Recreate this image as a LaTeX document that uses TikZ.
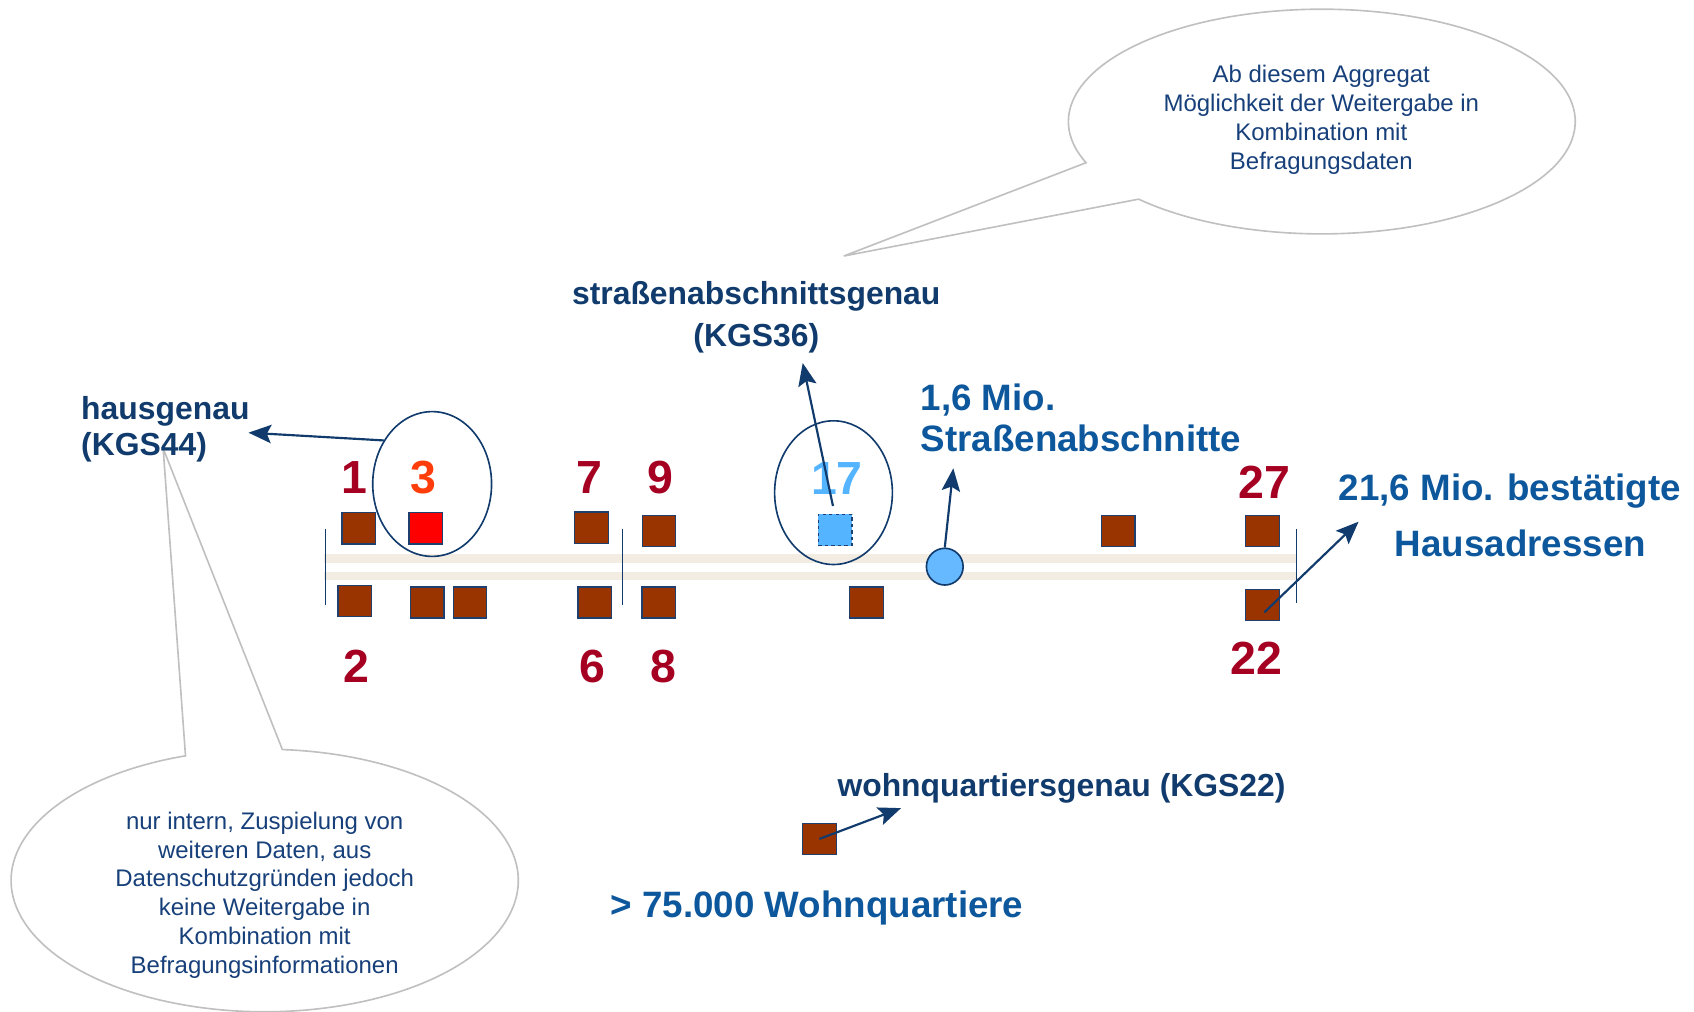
\documentclass[tikz,border=0pt]{standalone}
\usepackage{fontspec}
\setmainfont{Liberation Sans}
\usetikzlibrary{arrows.meta,calc,shapes.geometric}
\definecolor{navy}{HTML}{103B6C}
\definecolor{mblue}{HTML}{0D579C}
\definecolor{numred}{HTML}{A50021}
\definecolor{orred}{HTML}{FF3D0A}
\definecolor{lblue}{HTML}{55B4FF}
\definecolor{cblue}{HTML}{66B8FF}
\definecolor{boxfill}{HTML}{993300}
\definecolor{boxline}{HTML}{1F3F6E}
\definecolor{road}{HTML}{F3ECE2}
\definecolor{callgray}{HTML}{C0C0C0}
\definecolor{calltext}{HTML}{17407A}
\begin{document}
\begin{tikzpicture}[x=1pt,y=1pt,
 house/.style={draw=boxline,line width=1.3pt,fill=boxfill,minimum width=31pt,minimum height=29pt,inner sep=0pt},
 num/.style={font=\fontsize{43}{43}\selectfont\bfseries,text=numred,inner sep=0pt,text height=31pt,text depth=0pt},
 lbl/.style={font=\fontsize{29.5}{34}\selectfont\bfseries,text=navy,inner sep=0pt},
 blbl/.style={font=\fontsize{34}{38}\selectfont\bfseries,text=mblue,inner sep=0pt},
 ctext/.style={font=\fontsize{22.2}{26.7}\selectfont,text=calltext,align=center,inner sep=0pt},
 arr/.style={draw=navy,line width=2pt,arrows={-Stealth[length=21pt,width=17pt,inset=4pt]}},
 ring/.style={draw=navy,line width=1.5pt,ellipse,inner sep=0pt},
 bubble/.style={draw=callgray,line width=1.5pt,fill=white},
 tickline/.style={draw=navy,line width=1.2pt}]

\useasboundingbox (0,0) rectangle (1568,-936.7);

% callout bubbles
\coordinate (tc) at (1223.5,-112.5);
\coordinate (ttip) at (781,-237);
\path[bubble] (ttip) -- ($(tc)+(223.7:234.6 and 104)$) arc[start angle=223.7,end angle=561.5,x radius=234.6,y radius=104] -- cycle;
\coordinate (bc) at (245,-815);
\coordinate (btip) at (151,-415);
\path[bubble] (btip) -- ($(bc)+(108.2:234.7 and 121.5)$) arc[start angle=108.2,end angle=446,x radius=234.7,y radius=121.5] -- cycle;

\node[ctext] (ttxt) at (1223,-111) {Ab diesem Aggregat\\Möglichkeit der Weitergabe in\\Kombination mit\\Befragungsdaten};
\node[ctext] (btxt) at (245,-828.6) {nur intern, Zuspielung von\\weiteren Daten, aus\\Datenschutzgründen jedoch\\keine Weitergabe in\\Kombination mit\\Befragungsinformationen};

% road
\fill[road] (300,-513) rectangle (1200,-521);
\fill[road] (300,-529) rectangle (1200,-537);
\draw[tickline] (301,-490) -- (301,-560);
\draw[tickline] (576,-490) -- (576,-560);
\draw[tickline] (1200,-490) -- (1200,-558);

% houses
\node[house] (h1) at (332,-489) {};
\node[house,fill=red] (h3) at (394,-489) {};
\node[house] (h7) at (547.5,-488.5) {};
\node[house] (h9) at (610,-491.5) {};
\node[house,fill=lblue,dashed] (h17) at (773,-490.5) {};
\node[house] (h25) at (1035,-491.5) {};
\node[house] (h27) at (1168.6,-491.5) {};
\node[house] (h2) at (328.4,-556.4) {};
\node[house] (h4) at (395.5,-557.7) {};
\node[house] (h5) at (435,-557.7) {};
\node[house] (h6) at (550.5,-557.7) {};
\node[house] (h8) at (609.6,-557.7) {};
\node[house] (h19) at (802,-557.7) {};
\node[house] (h22) at (1168.6,-560) {};
\node[house] (hq) at (758.5,-776.5) {};

\node[draw=navy,line width=1.5pt,fill=cblue,circle,minimum size=34pt,inner sep=0pt] (seg) at (874.5,-524.5) {};

% rings
\node[ring,minimum width=110pt,minimum height=134pt] (e3) at (400,-448) {};
\node[ring,minimum width=109pt,minimum height=133pt] (e17) at (771.5,-456) {};

% numbers
\node[num] (n1) at (328,-441) {1};
\node[num,text=orred] (n3) at (392,-441) {3};
\node[num] (n7) at (546,-441) {7};
\node[num] (n9) at (611,-441) {9};
\node[num,text=lblue] (n17) at (774.6,-442) {17};
\node[num] (n27) at (1170.3,-446.3) {27};
\node[num] (n2) at (330,-616) {2};
\node[num] (n6) at (548.3,-616) {6};
\node[num] (n8) at (613.8,-616) {8};
\node[num] (n22) at (1162.8,-608.6) {22};

% labels
\node[lbl,anchor=base west] (haus1) at (75,-388) {hausgenau};
\node[lbl,anchor=base west] (haus2) at (75,-422) {(KGS44)};
\node[lbl,anchor=base] (str1) at (700,-282) {straßenabschnittsgenau};
\node[lbl,anchor=base] (str2) at (700,-321) {(KGS36)};
\node[blbl,anchor=base west] (mio1) at (852,-379.5) {1,6 Mio.};
\node[blbl,anchor=base west] (mio2) at (852,-418) {Straßenabschnitte};
\node[blbl,anchor=base west] (adr1) at (1239,-463.4) {21,6 Mio. bestätigte};
\node[blbl,anchor=base west] (adr2) at (1291,-515) {Hausadressen};
\node[lbl,anchor=base west] (wq) at (775,-737) {wohnquartiersgenau (KGS22)};
\node[blbl,anchor=base west] (wq2) at (565,-849) {> 75.000 Wohnquartiere};

% arrows
\coordinate (hausTip) at (230,-400.5);
\coordinate (kgsTip) at (743,-336);
\coordinate (segTip) at (882.4,-433.5);
\coordinate (adrTip) at (1257.5,-482.9);
\coordinate (wqTip) at (834,-748);
\draw[arr] (e3.138) -- (hausTip);
\draw[arr] ($(h17.north)+(-2,7)$) -- (kgsTip);
\draw[arr] (seg.north) -- (segTip);
\draw[arr] ($(h22.center)+(1.7,-6.8)$) -- (adrTip);
\draw[arr] (hq.center) -- (wqTip);
\end{tikzpicture}
\end{document}
